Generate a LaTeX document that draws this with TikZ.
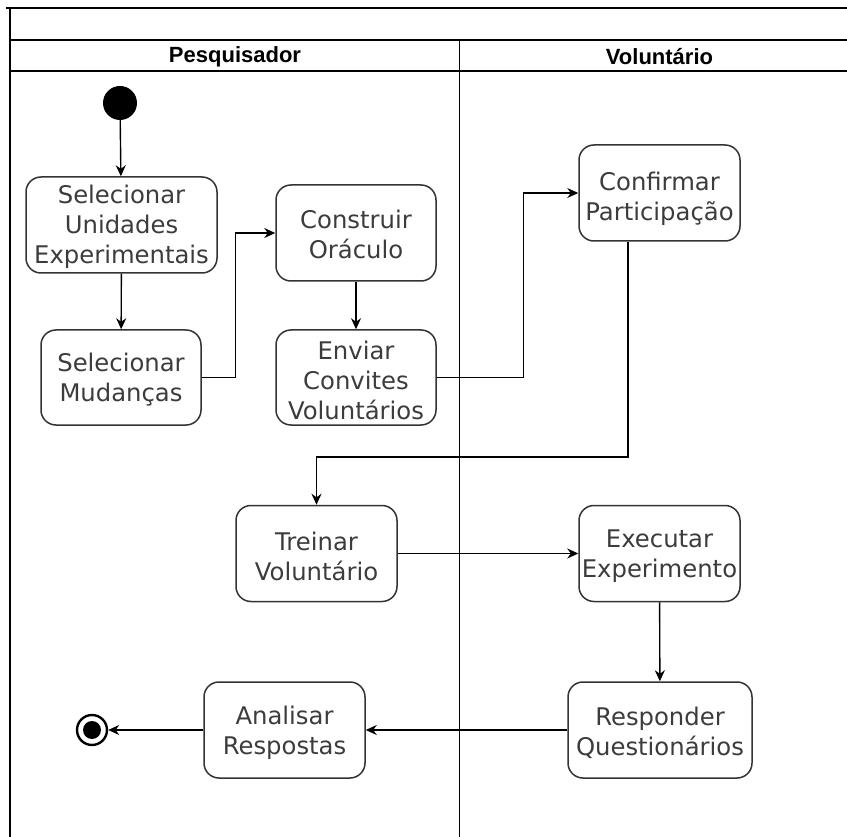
\documentclass[tikz,border=0pt]{standalone}
\usepackage{fontspec}
\setmainfont{DejaVu Sans}
\newfontfamily\hdrfont{Liberation Sans}
\usetikzlibrary{arrows.meta}
\definecolor{boxline}{HTML}{333333}
\definecolor{boxtext}{HTML}{3C3C3C}
\tikzset{
  act/.style={draw=boxline, line width=1.5pt, rounded corners=15pt, inner sep=0pt},
  acttext/.style={align=center, text=boxtext, font=\fontsize{24.3}{30}\selectfont, inner sep=0pt},
  flow/.style={draw=black, line width=1.4pt, -{Stealth[length=11pt,width=10pt]}},
  frame/.style={draw=black, line width=1.7pt},
  hdr/.style={font=\hdrfont\bfseries\fontsize{22}{24}\selectfont, text=black},
}
\begin{document}
\begin{tikzpicture}[x=1pt,y=-1pt]
\useasboundingbox (0,0) rectangle (847,837);
\fill[white] (0,0) rectangle (847,837);
% swimlane frame
\draw[frame] (6,8) -- (847,8);
\draw[frame] (10,8) -- (10,837);
\draw[frame] (10,40) -- (847,40);
\draw[frame] (10,71) -- (847,71);
\draw[frame] (459.5,40) -- (459.5,837);
\node[hdr] (lane1) at (235,56.5) {Pesquisador};
\node[hdr] (lane2) at (659.5,56.5) {Voluntário};
% start and end
\node[circle, fill=black, minimum size=34pt, inner sep=0pt] (start) at (120,103) {};
\node[circle, draw=black, line width=2.4pt, fill=white, minimum size=30pt, inner sep=0pt] (end) at (92,730) {};
\fill[black] (end.center) circle (9pt);
% activities
\node[act, minimum width=191pt, minimum height=96pt,
  label={[acttext, yshift=-2pt]center:Selecionar\\Unidades\\Experimentais}] (sue) at (121.5,225) {};
\node[act, minimum width=160pt, minimum height=95pt,
  label={[acttext, yshift=-2.5pt]center:Selecionar\\Mudanças}] (sm) at (121,377.5) {};
\node[act, minimum width=160pt, minimum height=96pt,
  label={[acttext, yshift=-1pt]center:Construir\\Oráculo}] (co) at (356,233) {};
\node[act, minimum width=160pt, minimum height=95pt,
  label={[acttext, yshift=-2.5pt]center:Enviar\\Convites\\Voluntários}] (ec) at (356,377.5) {};
\node[act, minimum width=161pt, minimum height=96pt,
  label={[acttext, yshift=-6pt]center:Confirmar\\Participação}] (cp) at (659.5,193) {};
\node[act, minimum width=161pt, minimum height=96pt,
  label={[acttext, yshift=-3pt]center:Treinar\\Voluntário}] (tv) at (316.5,553.5) {};
\node[act, minimum width=161pt, minimum height=96pt,
  label={[acttext, yshift=-3pt]center:Executar\\Experimento}] (ee) at (659.5,553.5) {};
\node[act, minimum width=184pt, minimum height=96pt,
  label={[acttext, yshift=-2.5pt]center:Responder\\Questionários}] (rq) at (660,730) {};
\node[act, minimum width=161pt, minimum height=96pt,
  label={[acttext, yshift=-2.5pt]center:Analisar\\Respostas}] (ar) at (284.5,730) {};
% connectors
\draw[flow] (start) -- (sue);
\draw[flow] (sue) -- (sm);
\draw[flow] (sm.east) -- ++(34,0) |- (co.west);
\draw[flow] (co) -- (ec);
\draw[flow] (ec.east) -- ++(87,0) |- (cp.west);
\coordinate (cpout) at ([xshift=-31.5pt]cp.south);
\coordinate (bend) at (cpout |- 0,457);
\draw[flow] (cpout) -- (bend) -| (tv.north);
\draw[flow] (tv) -- (ee);
\draw[flow] (ee) -- (rq);
\draw[flow] (rq) -- (ar);
\draw[flow] (ar) -- (end);
\end{tikzpicture}
\end{document}
